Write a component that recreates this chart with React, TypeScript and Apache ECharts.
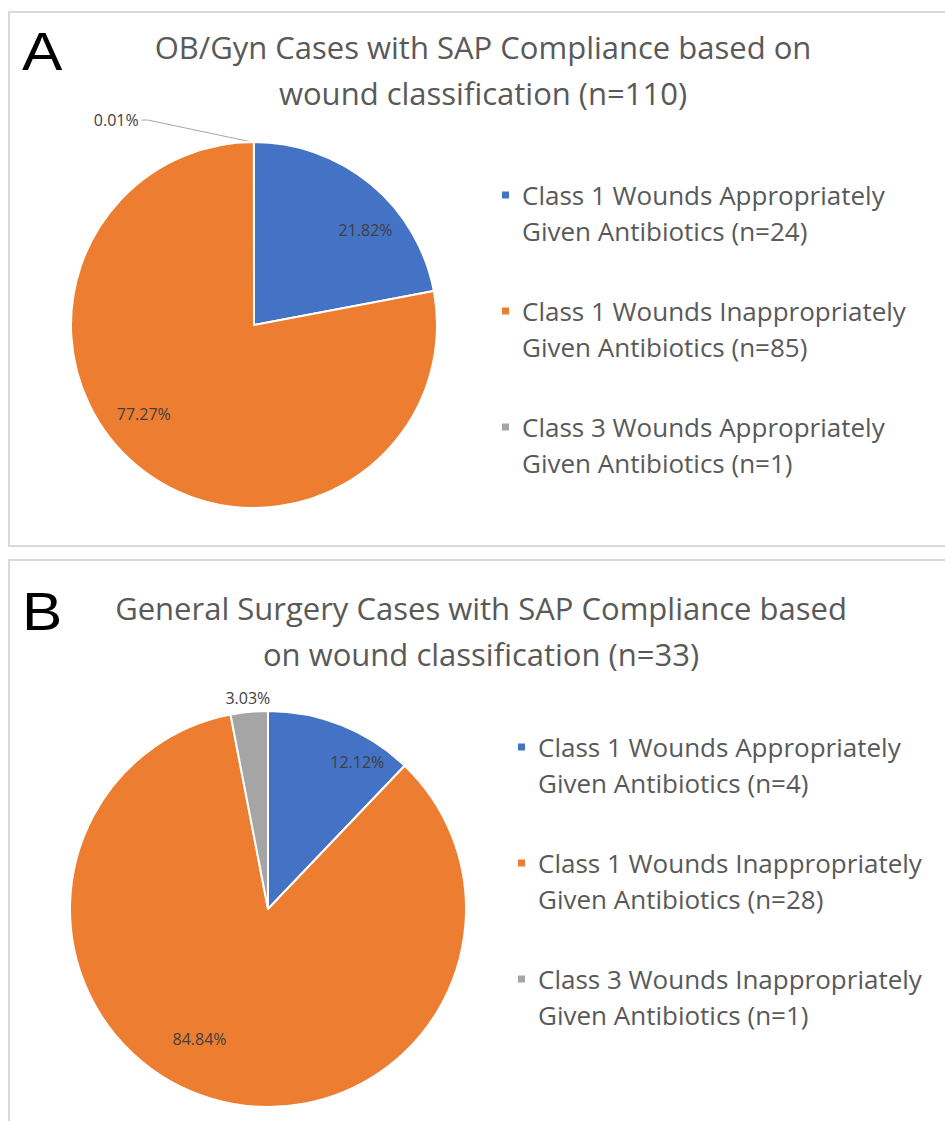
import React, { useEffect, useRef } from "react";
import * as echarts from "echarts";

const titleA = "OB/Gyn Cases with SAP Compliance based on\nwound classification (n=110)";
const titleB = "General Surgery Cases with SAP Compliance based\non wound classification (n=33)";

const categoriesA = [
  "Class 1 Wounds Appropriately\nGiven Antibiotics (n=24)",
  "Class 1 Wounds Inappropriately\nGiven Antibiotics (n=85)",
  "Class 3 Wounds Appropriately\nGiven Antibiotics (n=1)",
];
const valuesA = [21.82, 77.27, 0.01];

const categoriesB = [
  "Class 1 Wounds Appropriately\nGiven Antibiotics (n=4)",
  "Class 1 Wounds Inappropriately\nGiven Antibiotics (n=28)",
  "Class 3 Wounds Inappropriately\nGiven Antibiotics (n=1)",
];
const valuesB = [12.12, 84.84, 3.03];

const colors = ["#4472C4", "#ED7D31", "#A5A5A5"];

// label placement tweaks (angle shift in degrees, radius fraction) for inside labels
const insideLabelPlacementA = [
  [10, 0.8],
  [11.4, 0.775],
];
const insideLabelPlacementB = [
  [9.4, 0.87],
  [11.5, 0.74],
];

const FONT = "Open Sans";
const TEXT = "#595959";

function midAngle(values: number[], i: number) {
  const total = values.reduce((a, b) => a + b, 0);
  let before = 0;
  for (let k = 0; k < i; k++) before += values[k];
  return ((before + values[i] / 2) / total) * 360;
}

function makePie(
  values: number[],
  names: string[],
  cx: number,
  cy: number,
  R: number,
  placement: number[][],
  outsideMode: "leader" | "above"
) {
  return {
    type: "pie",
    center: [cx, cy],
    radius: R,
    startAngle: 90,
    clockwise: true,
    avoidLabelOverlap: false,
    itemStyle: { borderColor: "#ffffff", borderWidth: 2 },
    label: {
      show: true,
      position: "inside",
      formatter: (p: any) => p.value.toFixed(2) + "%",
      fontFamily: FONT,
      fontSize: 16,
      color: "#404040",
    },
    labelLine: { show: false },
    data: values.map((v, i) => {
      const item: any = { name: names[i], value: v, itemStyle: { color: colors[i] } };
      if (i === values.length - 1) {
        item.label = { position: "outside" };
        item.labelLine =
          outsideMode === "leader"
            ? { show: true, length: 10, length2: 5, lineStyle: { color: "#a6a6a6", width: 1 } }
            : { show: false, length: 10, length2: 0 };
      }
      return item;
    }),
    labelLayout: (params: any) => {
      const i = params.dataIndex;
      const mid = midAngle(values, i);
      if (i < values.length - 1) {
        const th = ((mid + placement[i][0]) * Math.PI) / 180;
        const d = placement[i][1] * R;
        return {
          x: cx + d * Math.sin(th),
          y: cy - d * Math.cos(th),
          align: "center",
          verticalAlign: "middle",
        };
      }
      const th = (mid * Math.PI) / 180;
      if (outsideMode === "above") {
        const d = R + 14;
        return {
          x: cx + d * Math.sin(th),
          y: cy - d * Math.cos(th),
          align: "center",
          verticalAlign: "middle",
        };
      }
      const lx = cx - 0.63 * R;
      const ly = cy - 1.12 * R;
      return {
        x: lx,
        y: ly,
        align: "right",
        verticalAlign: "middle",
        labelLinePoints: [
          [cx + R * Math.sin(th) - 2, cy - R * Math.cos(th)],
          [lx + 9, ly],
          [lx + 3, ly],
        ],
      };
    },
  };
}

function legendFor(names: string[], left: number, top: number) {
  return {
    data: names,
    orient: "vertical",
    left,
    top,
    icon: "rect",
    itemWidth: 9,
    itemHeight: 9,
    itemGap: 8,
    selectedMode: false,
    formatter: (name: string) => "\n" + name,
    textStyle: {
      fontFamily: FONT,
      fontSize: 26,
      color: TEXT,
      lineHeight: 36,
      padding: [0, 0, 0, 7],
    },
  };
}

export default function App() {
  const ref = useRef<HTMLDivElement>(null);
  useEffect(() => {
    if (!ref.current) return;
    const chart = echarts.init(ref.current, null, { renderer: "svg" });
    const titleStyle = {
      fontFamily: FONT,
      fontSize: 31,
      fill: TEXT,
      lineHeight: 46,
      align: "center",
      verticalAlign: "top",
    };
    chart.setOption({
      animation: false,
      backgroundColor: "#ffffff",
      legend: [legendFor(categoriesA, 495, 136), legendFor(categoriesB, 511, 688)],
      graphic: [
        {
          type: "rect",
          shape: { x: 9, y: 12, width: 960, height: 534 },
          style: { fill: "none", stroke: "#d9d9d9", lineWidth: 2 },
          silent: true,
        },
        {
          type: "rect",
          shape: { x: 9, y: 560, width: 960, height: 620 },
          style: { fill: "none", stroke: "#d9d9d9", lineWidth: 2 },
          silent: true,
        },
        { type: "text", x: 483, y: 24, style: { ...titleStyle, text: titleA } },
        { type: "text", x: 481, y: 585, style: { ...titleStyle, text: titleB } },
        {
          type: "text",
          x: 22,
          y: 24,
          scaleX: 1.12,
          style: { text: "A", fontFamily: "Liberation Sans", fontSize: 54, fill: "#000000" },
        },
        {
          type: "text",
          x: 22,
          y: 584,
          scaleX: 1.12,
          style: { text: "B", fontFamily: "Liberation Sans", fontSize: 54, fill: "#000000" },
        },
      ],
      series: [
        makePie(valuesA, categoriesA, 254, 325, 183, insideLabelPlacementA, "leader"),
        makePie(valuesB, categoriesB, 268, 909, 198, insideLabelPlacementB, "above"),
      ],
    });
    return () => chart.dispose();
  }, []);
  return (
    <div ref={ref} style={{ position: "absolute", left: 0, top: 0, width: 945, height: 1121 }} />
  );
}
